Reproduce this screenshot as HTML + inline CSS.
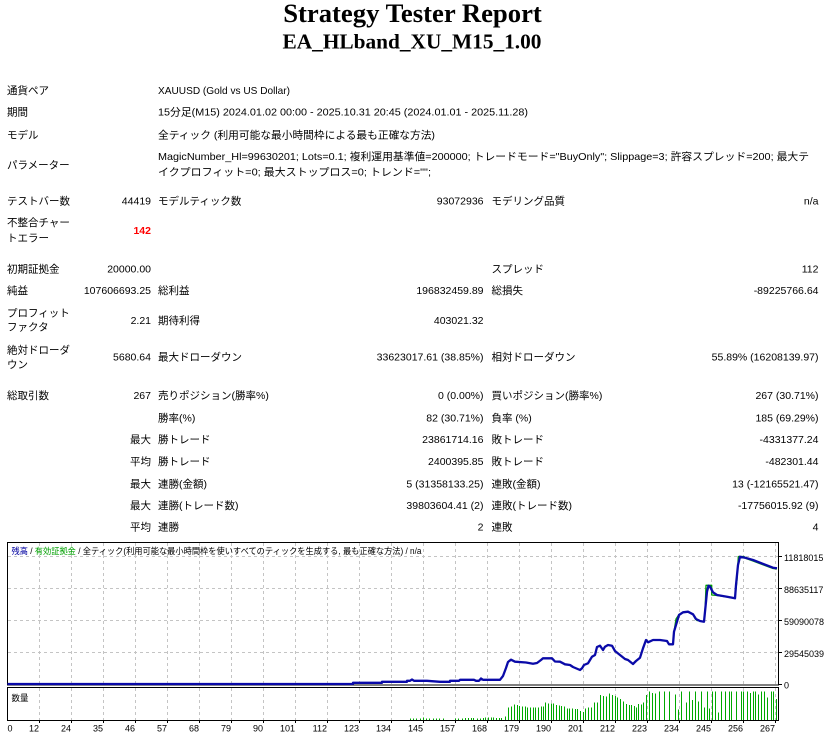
<!DOCTYPE html>
<html><head><meta charset="utf-8"><style>
html,body{margin:0;padding:0;background:#fff;width:829px;height:738px;overflow:hidden}
svg{display:block}
.t{font-family:"Liberation Sans","Noto Sans CJK JP",sans-serif;font-size:10.5px;fill:#000}
.ax{font-family:"Liberation Sans","Noto Sans CJK JP",sans-serif;font-size:9px;fill:#000}
</style></head><body>
<svg width="829" height="738" viewBox="0 0 829 738" xmlns="http://www.w3.org/2000/svg">
<rect width="829" height="738" fill="#fff"/>
<g font-family="Liberation Serif, serif" font-weight="bold" text-anchor="middle" fill="#000">
<text x="412.5" y="22" font-size="26.67">Strategy Tester Report</text>
<text x="412" y="48.5" font-size="21.33">EA_HLband_XU_M15_1.00</text>
</g>
<g class="t">
<text x="7" y="94">通貨ペア</text>
<text x="158" y="94" textLength="132" lengthAdjust="spacingAndGlyphs">XAUUSD (Gold vs US Dollar)</text>
<text x="7" y="115.7">期間</text>
<text x="158" y="115.7" textLength="370" lengthAdjust="spacingAndGlyphs">15分足(M15) 2024.01.02 00:00 - 2025.10.31 20:45 (2024.01.01 - 2025.11.28)</text>
<text x="7" y="138.3">モデル</text>
<text x="158" y="138.3" textLength="277" lengthAdjust="spacingAndGlyphs">全ティック (利用可能な最小時間枠による最も正確な方法)</text>
<text x="7" y="168.3">パラメーター</text>
<text x="158" y="160" textLength="651" lengthAdjust="spacingAndGlyphs">MagicNumber_Hl=99630201; Lots=0.1; 複利運用基準値=200000; トレードモード="BuyOnly"; Slippage=3; 許容スプレッド=200; 最大テ</text>
<text x="158" y="175.7" textLength="273" lengthAdjust="spacingAndGlyphs">イクプロフィット=0; 最大ストップロス=0; トレンド="";</text>

<text x="7" y="204.3">テストバー数</text>
<text x="151" y="204.3" text-anchor="end">44419</text>
<text x="158" y="204.3">モデルティック数</text>
<text x="483.5" y="204.3" text-anchor="end">93072936</text>
<text x="491.5" y="204.3">モデリング品質</text>
<text x="818.5" y="204.3" text-anchor="end">n/a</text>

<text x="7" y="226">不整合チャー</text>
<text x="7" y="241.3">トエラー</text>
<text x="151" y="234" text-anchor="end" fill="#ff0000" font-weight="bold">142</text>

<text x="7" y="272.3">初期証拠金</text>
<text x="151" y="272.3" text-anchor="end">20000.00</text>
<text x="491.5" y="272.3">スプレッド</text>
<text x="818.5" y="272.3" text-anchor="end">112</text>

<text x="7" y="294">純益</text>
<text x="151" y="294" text-anchor="end">107606693.25</text>
<text x="158" y="294">総利益</text>
<text x="483.5" y="294" text-anchor="end">196832459.89</text>
<text x="491.5" y="294">総損失</text>
<text x="818.5" y="294" text-anchor="end">-89225766.64</text>

<text x="7" y="316.3">プロフィット</text>
<text x="7" y="330.7">ファクタ</text>
<text x="151" y="324" text-anchor="end">2.21</text>
<text x="158" y="324">期待利得</text>
<text x="483.5" y="324" text-anchor="end">403021.32</text>

<text x="7" y="353.3">絶対ドローダ</text>
<text x="7" y="368">ウン</text>
<text x="151" y="360.7" text-anchor="end">5680.64</text>
<text x="158" y="360.7">最大ドローダウン</text>
<text x="483.5" y="360.7" text-anchor="end">33623017.61 (38.85%)</text>
<text x="491.5" y="360.7">相対ドローダウン</text>
<text x="818.5" y="360.7" text-anchor="end">55.89% (16208139.97)</text>

<text x="7" y="399">総取引数</text>
<text x="151" y="399" text-anchor="end">267</text>
<text x="158" y="399">売りポジション(勝率%)</text>
<text x="483.5" y="399" text-anchor="end">0 (0.00%)</text>
<text x="491.5" y="399">買いポジション(勝率%)</text>
<text x="818.5" y="399" text-anchor="end">267 (30.71%)</text>

<text x="158" y="421.3">勝率(%)</text>
<text x="483.5" y="421.3" text-anchor="end">82 (30.71%)</text>
<text x="491.5" y="421.3">負率 (%)</text>
<text x="818.5" y="421.3" text-anchor="end">185 (69.29%)</text>

<text x="151" y="443" text-anchor="end">最大</text>
<text x="158" y="443">勝トレード</text>
<text x="483.5" y="443" text-anchor="end">23861714.16</text>
<text x="491.5" y="443">敗トレード</text>
<text x="818.5" y="443" text-anchor="end">-4331377.24</text>

<text x="151" y="465" text-anchor="end">平均</text>
<text x="158" y="465">勝トレード</text>
<text x="483.5" y="465" text-anchor="end">2400395.85</text>
<text x="491.5" y="465">敗トレード</text>
<text x="818.5" y="465" text-anchor="end">-482301.44</text>

<text x="151" y="487.3" text-anchor="end">最大</text>
<text x="158" y="487.3">連勝(金額)</text>
<text x="483.5" y="487.3" text-anchor="end">5 (31358133.25)</text>
<text x="491.5" y="487.3">連敗(金額)</text>
<text x="818.5" y="487.3" text-anchor="end">13 (-12165521.47)</text>

<text x="151" y="509" text-anchor="end">最大</text>
<text x="158" y="509">連勝(トレード数)</text>
<text x="483.5" y="509" text-anchor="end">39803604.41 (2)</text>
<text x="491.5" y="509">連敗(トレード数)</text>
<text x="818.5" y="509" text-anchor="end">-17756015.92 (9)</text>

<text x="151" y="530.7" text-anchor="end">平均</text>
<text x="158" y="530.7">連勝</text>
<text x="483.5" y="530.7" text-anchor="end">2</text>
<text x="491.5" y="530.7">連敗</text>
<text x="818.5" y="530.7" text-anchor="end">4</text>
</g>

<!-- chart grid -->
<g stroke="#c4c4c4" stroke-width="1" stroke-dasharray="3,3" shape-rendering="crispEdges" fill="none">
<path d="M8 556.5H778M8 588.5H778M8 620.5H778M8 652.5H778"/>
<path d="M39.5 543V685M71.5 543V685M103.5 543V685M135.5 543V685M167.5 543V685M199.5 543V685M231.5 543V685M263.5 543V685M295.5 543V685M327.5 543V685M359.5 543V685M391.5 543V685M423.5 543V685M455.5 543V685M487.5 543V685M519.5 543V685M551.5 543V685M583.5 543V685M615.5 543V685M647.5 543V685M679.5 543V685M711.5 543V685M743.5 543V685M775.5 543V685"/>
<path d="M39.5 688V720M71.5 688V720M103.5 688V720M135.5 688V720M167.5 688V720M199.5 688V720M231.5 688V720M263.5 688V720M295.5 688V720M327.5 688V720M359.5 688V720M391.5 688V720M423.5 688V720M455.5 688V720M487.5 688V720M519.5 688V720M551.5 688V720M583.5 688V720M615.5 688V720M647.5 688V720M679.5 688V720M711.5 688V720M743.5 688V720M775.5 688V720"/>
</g>

<!-- volume bars -->
<path stroke="#00a800" stroke-width="1" fill="none" shape-rendering="crispEdges" d="
M410.5 720v-1.5M413.5 720v-1.5M416.5 720v-1.5M420.5 720v-1.5M423.5 720v-2.5M426.5 720v-1.5M429.5 720v-1.5M433.5 720v-1.5M436.5 720v-1.5M439.5 720v-1.5M443.5 720v-1.5
M455.5 720v-1.5M458.5 720v-1.5M462.5 720v-1.5M465.5 720v-2M468.5 720v-2M471.5 720v-2M473.5 720v-2M477.5 720v-1.5M480.5 720v-1.5M483.5 720v-2M485.5 720v-2.5M488.5 720v-2.5M491.5 720v-2.5M493.5 720v-2.5M496.5 720v-2M499.5 720v-2M501.5 720v-2
M505.5 720v-3.3M508.5 720v-12.3M511.5 720v-13.3M514.5 720v-15.7M517.5 720v-15M519.5 720v-14M522.5 720v-13.3M525.5 720v-13.3M527.5 720v-12.3M530.5 720v-12.3M533.5 720v-12.3M535.5 720v-12.7M538.5 720v-12.7M541.5 720v-13.3M543.5 720v-13.3M545.5 720v-17.7M548.5 720v-16.7M551.5 720v-16.7M553.5 720v-16.7M556.5 720v-15M559.5 720v-14.3M561.5 720v-14M564.5 720v-13.3M567.5 720v-11.7M569.5 720v-11.7M572.5 720v-11.7M575.5 720v-11M577.5 720v-11M580.5 720v-9M583.5 720v-8M585.5 720v-11.7M588.5 720v-12.7M591.5 720v-12.7M594.5 720v-17.7M597.5 720v-17.7
M600.5 720v-25M603.5 720v-24M606.5 720v-23.3M609.5 720v-26.7M612.5 720v-25M615.5 720v-24M617.5 720v-22.7M620.5 720v-21M623.5 720v-18.3M626.5 720v-16M629.5 720v-15M631.5 720v-15M634.5 720v-14M636.5 720v-12.7M638.5 720v-16M641.5 720v-15.7M643.5 720v-17.3M646.5 720v-25M649.5 720v-28.3M652.5 720v-27M655.5 720v-26.7M659.5 720v-28.7M664.5 720v-28.7M669.5 720v-28.7M675.5 720v-25.7M678.5 720v-10.7M681.5 720v-28.7M686.5 720v-17.3M689.5 720v-28.7M692.5 720v-20M695.5 720v-28.7M698.5 720v-18.3M701.5 720v-28.7M704.5 720v-12.7M707.5 720v-28.7M709.5 720v-11.7M712.5 720v-28.7M715.5 720v-28.7M718.5 720v-7.3M721.5 720v-28.7M725.5 720v-28.7M729.5 720v-28.7M731.5 720v-28.7M736.5 720v-28.7M741.5 720v-28.7M743.5 720v-28.7M747.5 720v-28.7M750.5 720v-27M753.5 720v-28.7M755.5 720v-28.7M758.5 720v-25.7M761.5 720v-28.7M764.5 720v-28.7M767.5 720v-22.7M771.5 720v-28.7M773.5 720v-28.7M776.5 720v-21"/>

<!-- frames -->
<g fill="none" stroke="#000" stroke-width="1" shape-rendering="crispEdges">
<rect x="7.5" y="542.5" width="771" height="142.5"/>
<rect x="7.5" y="687.5" width="771" height="33"/>
<path d="M779 556.5h3M779 588.5h3M779 620.5h3M779 652.5h3M779 684.5h3"/>
<path d="M39.5 721v2M71.5 721v2M103.5 721v2M135.5 721v2M167.5 721v2M199.5 721v2M231.5 721v2M263.5 721v2M295.5 721v2M327.5 721v2M359.5 721v2M391.5 721v2M423.5 721v2M455.5 721v2M487.5 721v2M519.5 721v2M551.5 721v2M583.5 721v2M615.5 721v2M647.5 721v2M679.5 721v2M711.5 721v2M743.5 721v2M775.5 721v2"/>
</g>

<!-- equity (green) -->
<polyline fill="none" stroke="#00a000" stroke-width="1.3" stroke-linejoin="round" points="7.5,684 353,684 353,682.8 382,682.8 382,681.8 407,681.8 407,680.8 410,680.8 412,679.5 414,680.8 427,680.8 440,681.8 450,681.8 450,680.8 459,680.8 460,679.8 474,679.8 476,680.8 479,680.8 481,678.5 483,679.8 500,679.8 503,676 506,668 508,662 511,659.7 515,661.7 526,662.5 533,663.7 537,663 541,660 543,658.3 552,658.3 555,661.5 560,661.7 565,664.3 570,665 573,667 580,670 582,668.3 584,665 588,663.3 590,660 592,656.7 595,655 597,647 600,645.7 603,650 605,646.7 608,645 612,645.7 615,651 620,655 625,659 628,660 633,664 636,661 640,657.7 643,648.3 646,640 648,642.3 653,640 660,640 667,641 669,644.3 673,644.3 674,631.7 676,619 679,614.5 683,612.3 688,611.7 693,614.3 695,618.5 697,620.5 700,621 704,621.7 705,611.7 706,585.3 711.7,585.3 711.7,595 717,595.5 727,597 735,598.5 737,580 738.3,556.5 744,556.5 746,558.5 753,561 773,568.5 777,569"/>
<!-- balance (blue) -->
<polyline fill="none" stroke="#0a0aa8" stroke-width="2.3" stroke-linejoin="round" points="7.5,684 353,684 353,682.8 382,682.8 382,681.8 407,681.8 407,680.8 410,680.8 412,679.5 414,680.8 427,680.8 440,681.8 450,681.8 450,680.8 459,680.8 460,679.8 474,679.8 476,680.8 479,680.8 481,678.5 483,679.8 500,679.8 503,676 506,668 508,662 511,659.7 515,661.7 526,662.5 533,663.7 537,663 541,660 543,658.3 552,658.3 555,661.5 560,661.7 565,664.3 570,665 573,667 580,670 582,668.3 584,665 588,663.3 590,660 592,656.7 595,655 597,647 600,645.7 603,650 605,646.7 608,645 612,645.7 615,651 620,655 625,659 628,660 633,664 636,661 640,657.7 643,648.3 646,640 648,642.3 653,640 660,640 667,641 669,644.3 673,644.3 674,631.7 677,621.7 679,615 683,612.3 688,611.7 693,614.3 696,619 700,621 704,621.7 705,611.7 707,591.7 708.5,585.7 710,586.7 713,592.3 717,595 727,596.7 735,598.3 736,585 738,565 740,556.7 745,557.7 753,560 773,567.7 777,568.3"/>

<!-- legend -->
<text x="11.5" y="554" font-family="Liberation Sans, Noto Sans CJK JP, sans-serif" font-size="8.8" textLength="410" lengthAdjust="spacingAndGlyphs" fill="#000"><tspan fill="#0000a0">残高</tspan> / <tspan fill="#00a000">有効証拠金</tspan> / 全ティック(利用可能な最小時間枠を使いすべてのティックを生成する, 最も正確な方法) / n/a</text>
<text x="11.5" y="701" font-family="Liberation Sans, Noto Sans CJK JP, sans-serif" font-size="8.5" textLength="17" lengthAdjust="spacingAndGlyphs" fill="#000">数量</text>

<!-- y labels -->
<g class="ax">
<text x="784" y="561">11818015</text>
<text x="784" y="593">88635117</text>
<text x="784" y="625">59090078</text>
<text x="784" y="657">29545039</text>
<text x="784" y="688.5">0</text>
</g>
<!-- x labels -->
<g class="ax" text-anchor="end">
<text x="12.5" y="731.5">0</text>
<text x="39" y="731.5">12</text>
<text x="71" y="731.5">24</text>
<text x="103" y="731.5">35</text>
<text x="135" y="731.5">46</text>
<text x="167" y="731.5">57</text>
<text x="199" y="731.5">68</text>
<text x="231" y="731.5">79</text>
<text x="263" y="731.5">90</text>
<text x="295" y="731.5">101</text>
<text x="327" y="731.5">112</text>
<text x="359" y="731.5">123</text>
<text x="391" y="731.5">134</text>
<text x="423" y="731.5">145</text>
<text x="455" y="731.5">157</text>
<text x="487" y="731.5">168</text>
<text x="519" y="731.5">179</text>
<text x="551" y="731.5">190</text>
<text x="583" y="731.5">201</text>
<text x="615" y="731.5">212</text>
<text x="647" y="731.5">223</text>
<text x="679" y="731.5">234</text>
<text x="711" y="731.5">245</text>
<text x="743" y="731.5">256</text>
<text x="775" y="731.5">267</text>
</g>
</svg>
</body></html>
